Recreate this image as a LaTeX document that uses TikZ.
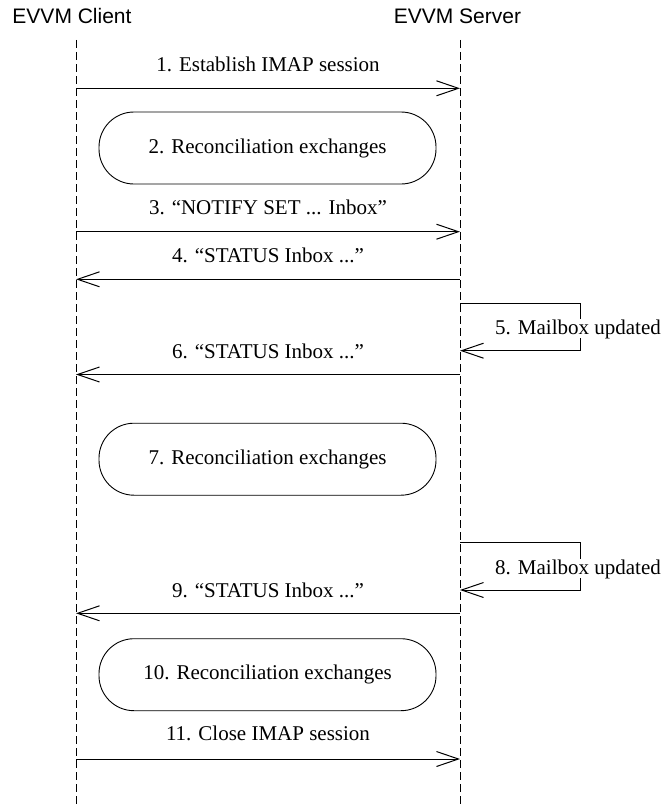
\documentclass[tikz,border=0pt]{standalone}
\usepackage{fontspec}
\setmainfont{Liberation Serif}
\newfontfamily\hdrfont{Liberation Sans}
\usetikzlibrary{arrows.meta}
\tikzset{
  lifeline/.style={draw=black, line width=1bp, dash pattern=on 8bp off 4bp},
  msg/.style={draw=black, line width=1bp, -{Straight Barb[length=22bp,width=15bp,line width=1bp]}},
  lbl/.style={inner sep=0pt, anchor=base, font=\fontsize{21bp}{25bp}\selectfont},
  hdr/.style={inner sep=0pt, anchor=base, font=\hdrfont\fontsize{21bp}{25bp}\selectfont},
  recon/.style={draw=black, line width=0.9bp, minimum width=337bp, minimum height=72bp,
    rounded corners=35bp, inner sep=0pt, font=\fontsize{21bp}{25bp}\selectfont},
}
\begin{document}
\begin{tikzpicture}[x=1bp,y=-1bp]
\useasboundingbox (0,0) rectangle (661,807);
% headers
\node[hdr] (hc) at (72,23.3) {EVVM Client};
\node[hdr] (hs) at (457.5,23.3) {EVVM Server};
% lifelines
\coordinate (ctop) at (76,40);
\coordinate (cbot) at (76,807);
\coordinate (stop) at (460,40);
\coordinate (sbot) at (460,807);
\draw[lifeline] (ctop) -- (cbot);
\draw[lifeline] (stop) -- (sbot);
% 1
\coordinate (c1) at (76,88.3);
\coordinate (s1) at (460,88.3);
\draw[msg] (c1) -- (s1);
\node[lbl] (l1) at (268,71.7) {1. Establish IMAP session};
% 2
\node[recon] (b2) at (267.5,148) {2. Reconciliation exchanges};
% 3
\coordinate (c3) at (76,231.7);
\coordinate (s3) at (460,231.7);
\draw[msg] (c3) -- (s3);
\node[lbl] (l3) at (268,214.3) {3. “NOTIFY SET ... Inbox”};
% 4
\coordinate (c4) at (76,279.3);
\coordinate (s4) at (460,279.3);
\draw[msg] (s4) -- (c4);
\node[lbl] (l4) at (268,262.7) {4. “STATUS Inbox ...”};
% 5
\coordinate (s5a) at (460,303.3);
\coordinate (s5b) at (460,350.7);
\coordinate (r5) at (580,303.3);
\draw[msg] (s5a) -- (r5) |- (s5b);
\node[lbl, fill=white] (l5) at (578,334) {5. Mailbox updated};
% 6
\coordinate (c6) at (76,374.5);
\coordinate (s6) at (460,374.5);
\draw[msg] (s6) -- (c6);
\node[lbl] (l6) at (268,358.3) {6. “STATUS Inbox ...”};
% 7
\node[recon] (b7) at (267.5,459.2) {7. Reconciliation exchanges};
% 8
\coordinate (s8a) at (460,542.7);
\coordinate (s8b) at (460,590);
\coordinate (r8) at (580,542.7);
\draw[msg] (s8a) -- (r8) |- (s8b);
\node[lbl, fill=white] (l8) at (578,574) {8. Mailbox updated};
% 9
\coordinate (c9) at (76,613.3);
\coordinate (s9) at (460,613.3);
\draw[msg] (s9) -- (c9);
\node[lbl] (l9) at (268,597.7) {9. “STATUS Inbox ...”};
% 10
\node[recon] (b10) at (267.5,674.7) {10. Reconciliation exchanges};
% 11
\coordinate (c11) at (76,759);
\coordinate (s11) at (460,759);
\draw[msg] (c11) -- (s11);
\node[lbl] (l11) at (268,740.7) {11. Close IMAP session};
\end{tikzpicture}
\end{document}
